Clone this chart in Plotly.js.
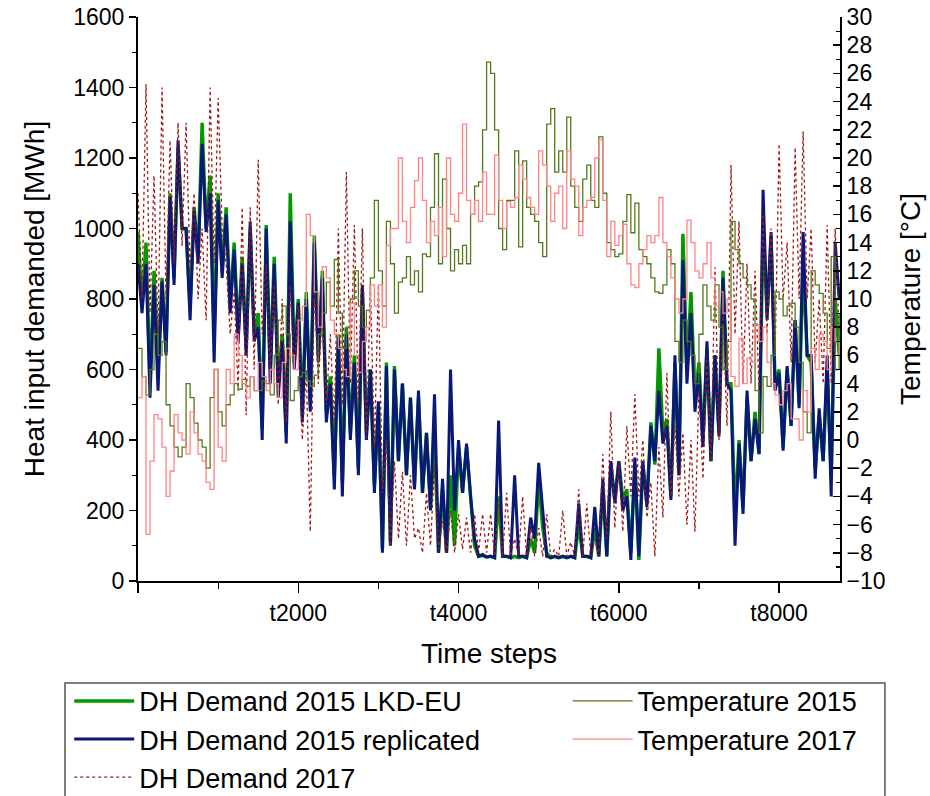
<!DOCTYPE html>
<html>
<head>
<meta charset="utf-8">
<script src="https://cdn.plot.ly/plotly-3.0.1.min.js"></script>
<style>html,body{margin:0;padding:0;background:#fff;}</style>
</head>
<body>
<div id="chart" style="width:930px;height:796px;"></div>
<script>
// sampling grid: one reading every 50 time steps (t0 .. t8750)
const timeSteps = Array.from({length: 176}, (_, i) => i * 50);

// DH Demand 2015 LKD-EU [MWh]
const demand2015LKD = [
990,780, 960,560, 880,600, 860,650, 1100,860, 1230,1000, 1000,780, 1060,920, 1300,1000, 1150,700,
1100,880, 1060,780, 960,700, 920,660, 1000,700, 760,430, 1010,600, 920,560, 700,420, 1100,620,
800,470, 820,500, 980,640, 880,480, 580,300, 700,280, 720,420, 640,320, 820,420, 600,270,
500,90, 620,110, 610,340, 560,300, 520,270, 520,250, 420,210, 400,80, 260,80, 300,100,
380,250, 380,240, 100,70, 72,68, 70,66, 240,70, 70,66, 70,66, 70,66, 120,80,
290,150, 80,66, 70,66, 70,66, 70,66, 160,70, 70,66, 150,70, 260,70, 330,230,
340,230, 260,80, 330,60, 330,220, 450,330, 660,420, 460,240, 620,300, 985,600, 820,520,
620,400, 660,340, 640,420, 880,560, 560,180, 400,210, 520,340, 480,360, 1000,760, 980,560,
600,380, 600,440, 740,500, 900,640, 620,320, 470,340, 600,300, 800,640
];

// DH Demand 2015 replicated [MWh]
const demand2015Rep = [
900,760, 900,520, 840,540, 850,640, 1090,840, 1250,1000, 1000,740, 1050,900, 1240,990, 1100,620,
1080,860, 1040,760, 940,680, 900,640, 1020,680, 720,400, 1000,560, 900,520, 680,390, 1020,600,
790,450, 800,480, 960,620, 860,450, 560,260, 690,240, 700,400, 620,300, 840,400, 600,250,
510,80, 610,100, 600,340, 560,300, 520,260, 540,250, 420,200, 530,80, 290,80, 600,200,
400,250, 390,240, 120,70, 75,68, 70,66, 455,70, 70,66, 300,70, 70,66, 180,120,
335,200, 70,66, 70,66, 70,66, 70,66, 220,70, 70,66, 210,70, 290,70, 340,220,
340,200, 240,60, 350,70, 340,210, 440,340, 540,390, 440,230, 640,300, 910,560, 760,480,
590,380, 680,340, 640,410, 860,560, 540,100, 390,190, 540,340, 460,360, 1110,740, 990,540,
590,370, 610,440, 740,490, 990,640, 640,290, 490,340, 640,240, 960,800
];

// DH Demand 2017 [MWh]
const demand2017 = [
1100,800, 1410,760, 1150,700, 1400,800, 1250,900, 1300,950, 1300,880, 1100,800, 1000,740, 1400,900,
1370,1000, 900,700, 820,540, 1060,470, 1060,600, 1195,700, 900,600, 840,500, 800,450, 840,600,
780,400, 600,140, 840,560, 760,500, 700,440, 1000,500, 1160,560, 1010,500, 1000,400, 840,380,
840,250, 400,100, 340,120, 310,100, 300,120, 150,80, 250,100, 330,90, 170,80, 200,80,
190,90, 180,80, 190,80, 190,80, 190,70, 230,70, 250,70, 120,70, 240,70, 160,70,
150,70, 190,70, 90,70, 200,70, 110,70, 260,70, 220,70, 120,70, 360,120, 480,150,
340,140, 440,240, 530,240, 400,180, 280,70, 380,180, 590,240, 440,240, 420,160, 400,140,
540,290, 640,340, 890,400, 760,440, 1180,700, 1020,560, 900,560, 880,540, 1040,700, 1000,640,
1240,800, 960,620, 1230,800, 1275,800, 1000,620, 800,560, 1010,560, 1000,700
];

// Temperature 2015 [°C]
const temp2015 = [
6.5,4.5, 3.2,5.0, 7.5,6.0, 7.0,2.5, 1.0,-0.5, -1.2,-0.5, 4.0,3.0, 1.2,0.0, -0.5,-2.0, 3.0,5.0,
2.0,1.0, 2.5,3.2, 4.0,3.6, 4.3,3.8, 4.5,3.5, 3.5,4.2, 4.0,3.2, 6.0,8.5, 9.5,7.5, 2.8,3.5,
4.5,4.8, 4.2,3.8, 4.6,7.5, 9.0,11.2, 9.5,12.8, 9.0,6.5, 8.0,10.0, 12.0,9.5, 8.0,9.2, 11.5,17.0,
12.0,9.5, 15.5,12.5, 9.0,11.2, 11.5,13.0, 11.0,12.0, 10.5,13.2, 13.0,16.5, 20.3,12.5, 18.5,15.0, 12.0,13.5,
12.5,13.8, 12.5,16.0, 18.0,18.3, 22.0,26.8, 26.0,22.0, 15.0,13.5, 17.0,17.0, 20.5,13.7, 19.8,16.5, 16.0,15.5,
14.0,13.0, 22.4,23.5, 19.0,20.5, 19.0,22.9, 18.0,16.5, 15.5,18.5, 19.5,17.0, 16.5,21.5, 17.5,14.0, 13.5,13.0,
13.2,15.5, 17.4,14.7, 16.8,13.5, 13.0,12.5, 11.5,10.5, 10.4,11.0, 13.5,12.5, 7.0,5.5, 8.5,7.0, 6.0,4.0,
7.5,11.0, 9.5,8.5, 11.0,8.0, 5.0,7.0, 15.5,13.5, 12.5,11.5, 11.0,10.0, 3.5,0.5, 4.5,3.8, 6.0,10.5,
10.0,8.8, 9.5,9.7, 8.0,5.5, 2.0,0.5, 12.0,11.0, 10.4,9.0, 6.5,13.0, 5.0,9.0
];

// Temperature 2017 [°C]
const temp2017 = [
3.0,4.5, -6.7,-1.5, 1.8,1.5, -0.5,-4.0, -2.2,1.8, 0.5,0.0, -1.0,2.0, 0.5,-1.0, -1.5,-3.0, -3.5,5.0,
-0.5,-1.5, 5.0,4.0, 7.5,6.0, 4.0,3.0, 4.5,3.5, 5.5,4.5, 3.5,5.0, 4.0,3.0, 5.5,6.5, 6.0,5.0,
8.5,9.5, 16.0,14.5, 10.5,8.0, 12.3,11.5, 8.5,7.5, 6.5,5.0, 4.5,9.7, 6.0,4.8, 7.0,8.0, 11.0,9.5,
11.0,8.0, 13.8,15.0, 15.0,20.0, 15.5,14.0, 16.5,18.4, 20.0,17.0, 14.0,15.5, 14.5,16.5, 13.0,20.0, 16.0,15.5,
17.5,22.4, 17.0,16.0, 17.0,15.5, 19.0,16.0, 16.0,20.2, 17.0,15.0, 16.9,16.5, 17.2,19.5, 18.5,17.2, 16.5,16.0,
20.5,19.5, 18.0,15.5, 17.5,18.0, 15.0,20.5, 18.5,18.0, 14.5,16.5, 17.0,17.2, 20.0,21.3, 17.0,13.0, 15.5,13.8,
14.5,15.3, 12.5,11.0, 10.8,12.5, 13.5,14.5, 14.0,14.5, 17.2,14.0, 13.0,11.5, 10.0,9.0, 10.0,15.6, 14.0,12.0,
11.5,12.5, 14.0,11.5, 9.5,10.5, 9.0,10.0, 4.5,3.8, 7.2,4.0, 5.8,5.5, 8.2,7.0, 8.0,5.5, 4.0,3.2,
2.5,3.5, 4.0,1.5, 1.5,0.0, 3.5,2.0, 6.5,5.0, 7.5,7.0, 5.0,8.0, 7.0,6.0
];

const xTickVals = [0, 2000, 4000, 6000, 8000];
const xTickText = ['', 't2000', 't4000', 't6000', 't8000'];
const xMinorVals = [1000, 3000, 5000, 7000];

const traces = [
  {x: timeSteps, y: demand2015LKD, name: 'DH Demand 2015 LKD-EU', type: 'scatter', mode: 'lines',
   line: {color: '#009a00', width: 3.4}, legend: 'legend'},
  {x: timeSteps, y: demand2015Rep, name: 'DH Demand 2015 replicated', type: 'scatter', mode: 'lines',
   line: {color: '#0a1878', width: 3}, legend: 'legend'},
  {x: timeSteps, y: demand2017, name: 'DH Demand 2017', type: 'scatter', mode: 'lines',
   line: {color: '#a01818', width: 1.3, dash: 'dot'}, legend: 'legend'},
  {x: timeSteps, y: temp2015, name: 'Temperature 2015', type: 'scatter', mode: 'lines', yaxis: 'y2',
   line: {color: '#537a18', width: 1.3, shape: 'hv'}, legend: 'legend2'},
  {x: timeSteps, y: temp2017, name: 'Temperature 2017', type: 'scatter', mode: 'lines', yaxis: 'y2',
   line: {color: '#ff8484', width: 1.3, shape: 'hv'}, legend: 'legend2'}
];

const fontFam = 'Liberation Sans, Arial, sans-serif';

const layout = {
  width: 930, height: 796,
  margin: {l: 138, r: 90, t: 17, b: 215, autoexpand: false},
  paper_bgcolor: '#ffffff', plot_bgcolor: '#ffffff',
  font: {family: fontFam, color: '#000', size: 23},
  showlegend: true,
  xaxis: {
    range: [0, 8760], tickmode: 'array', tickvals: xTickVals, ticktext: xTickText,
    ticks: 'outside', ticklen: 10, tickwidth: 1.5, tickcolor: '#000',
    showline: true, linecolor: '#000', linewidth: 2, showgrid: false, zeroline: false,
    tickfont: {size: 23, family: fontFam},
    minor: {tickmode: 'array', tickvals: xMinorVals, ticks: 'outside', ticklen: 6, tickwidth: 1.2, tickcolor: '#000', showgrid: false},
    title: {text: 'Time steps', font: {size: 28, family: fontFam}, standoff: 19}
  },
  yaxis: {
    range: [0, 1600], dtick: 200, tick0: 0,
    ticks: 'outside', ticklen: 7, tickwidth: 1.5, tickcolor: '#000',
    showline: true, linecolor: '#000', linewidth: 2, showgrid: false, zeroline: false,
    tickfont: {size: 23, family: fontFam},
    minor: {dtick: 100, ticks: 'outside', ticklen: 4, tickwidth: 1.2, tickcolor: '#000', showgrid: false},
    title: {text: 'Heat input demanded [MWh]', font: {size: 28, family: fontFam}, standoff: 20}
  },
  yaxis2: {
    overlaying: 'y', side: 'right', anchor: 'x',
    range: [-10, 30], dtick: 2, tick0: -10,
    ticks: 'inside', ticklen: 7, tickwidth: 1.5, tickcolor: '#000',
    showline: true, linecolor: '#000', linewidth: 2, showgrid: false, zeroline: false,
    tickfont: {size: 23, family: fontFam},
    minor: {dtick: 1, ticks: 'inside', ticklen: 4, tickwidth: 1.2, tickcolor: '#000', showgrid: false},
    title: {text: 'Temperature [°C]', font: {size: 28, family: fontFam}, standoff: 16}
  },
  legend: {
    x: -0.098, xanchor: 'left', y: -0.170, yanchor: 'top', orientation: 'v',
    bgcolor: 'rgba(0,0,0,0)', borderwidth: 0, itemwidth: 60,
    font: {size: 27, family: fontFam}, tracegroupgap: 0
  },
  legend2: {
    x: 0.612, xanchor: 'left', y: -0.170, yanchor: 'top', orientation: 'v',
    bgcolor: 'rgba(0,0,0,0)', borderwidth: 0, itemwidth: 60,
    font: {size: 27, family: fontFam}, tracegroupgap: 0
  },
  shapes: [{
    type: 'rect', xref: 'paper', yref: 'paper',
    x0: -0.104, x1: 1.064, y0: -0.40, y1: -0.181,
    line: {color: '#555555', width: 1.5}, fillcolor: 'rgba(0,0,0,0)', layer: 'below'
  }]
};

Plotly.newPlot('chart', traces, layout, {displayModeBar: false, staticPlot: true});
</script>
</body>
</html>
